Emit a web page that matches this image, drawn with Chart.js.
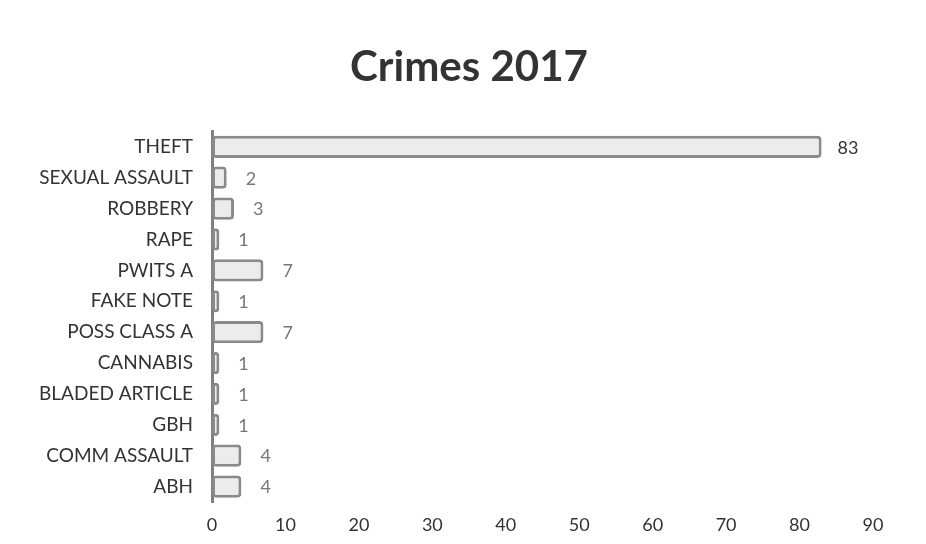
<!DOCTYPE html>
<html>
<head>
<meta charset="utf-8">
<script src="https://cdn.jsdelivr.net/npm/chart.js@4"></script>
<style>
  html, body { margin: 0; padding: 0; background: #fff; }
  #wrap { width: 926px; height: 544px; }
</style>
</head>
<body>
<div id="wrap"><canvas id="crimeChart"></canvas></div>
<script>
// Crimes 2017 - counts per offence
const crimeTypes = ['THEFT', 'SEXUAL ASSAULT', 'ROBBERY', 'RAPE', 'PWITS A', 'FAKE NOTE',
  'POSS CLASS A', 'CANNABIS', 'BLADED ARTICLE', 'GBH', 'COMM ASSAULT', 'ABH'];
const crimeCounts = [83, 2, 3, 1, 7, 1, 7, 1, 1, 1, 4, 4];
const axisTicks = [0, 10, 20, 30, 40, 50, 60, 70, 80, 90];

const FONT = 'Lato, "Open Sans", sans-serif';

// write the value next to each bar
const valueLabels = {
  id: 'valueLabels',
  afterDatasetsDraw(chart) {
    const ctx = chart.ctx;
    const meta = chart.getDatasetMeta(0);
    ctx.save();
    ctx.font = '18px ' + FONT;
    ctx.textBaseline = 'middle';
    meta.data.forEach((bar, i) => {
      const v = chart.data.datasets[0].data[i];
      ctx.fillStyle = v > 50 ? '#333' : '#777';
      ctx.fillText(String(v), bar.x + (v > 50 ? 16 : 19), bar.y + 1);
    });
    ctx.restore();
  }
};

// title sits a bit right of the chart's centre in the original
const shiftTitle = {
  id: 'shiftTitle',
  afterLayout(chart) {
    if (chart.titleBlock) {
      chart.titleBlock.left = 12;
      chart.titleBlock.right = 926;
    }
  }
};

const ctx = document.getElementById('crimeChart').getContext('2d');
new Chart(ctx, {
  type: 'bar',
  data: {
    labels: crimeTypes,
    datasets: [{
      data: crimeCounts,
      backgroundColor: '#ececec',
      borderColor: '#8a8a8a',
      borderWidth: 3,
      borderRadius: 4,
      borderSkipped: false,
      barPercentage: 0.72,
      categoryPercentage: 1.0
    }]
  },
  options: {
    indexAxis: 'y',
    responsive: true,
    maintainAspectRatio: false,
    animation: false,
    layout: { padding: { top: 42, right: 53, bottom: 0, left: 0 } },
    plugins: {
      legend: { display: false },
      tooltip: { enabled: false },
      title: {
        display: true,
        text: 'Crimes 2017',
        color: '#333',
        font: { family: FONT, size: 42, weight: 'bold' },
        padding: { top: 0, bottom: 39 }
      }
    },
    scales: {
      x: {
        min: 0,
        max: 90,
        afterBuildTicks: (scale) => { scale.ticks = axisTicks.map(v => ({ value: v })); },
        afterFit: (scale) => { scale.height = 42; },
        grid: { display: false },
        border: { display: false },
        ticks: { color: '#333', padding: 4, font: { family: FONT, size: 18 } }
      },
      y: {
        afterFit: (scale) => { scale.width = 212; },
        grid: { display: false },
        border: { display: true, color: '#808080', width: 3 },
        ticks: { color: '#333', padding: 11, font: { family: FONT, size: 19 } }
      }
    }
  },
  plugins: [valueLabels, shiftTitle]
});
</script>
</body>
</html>
